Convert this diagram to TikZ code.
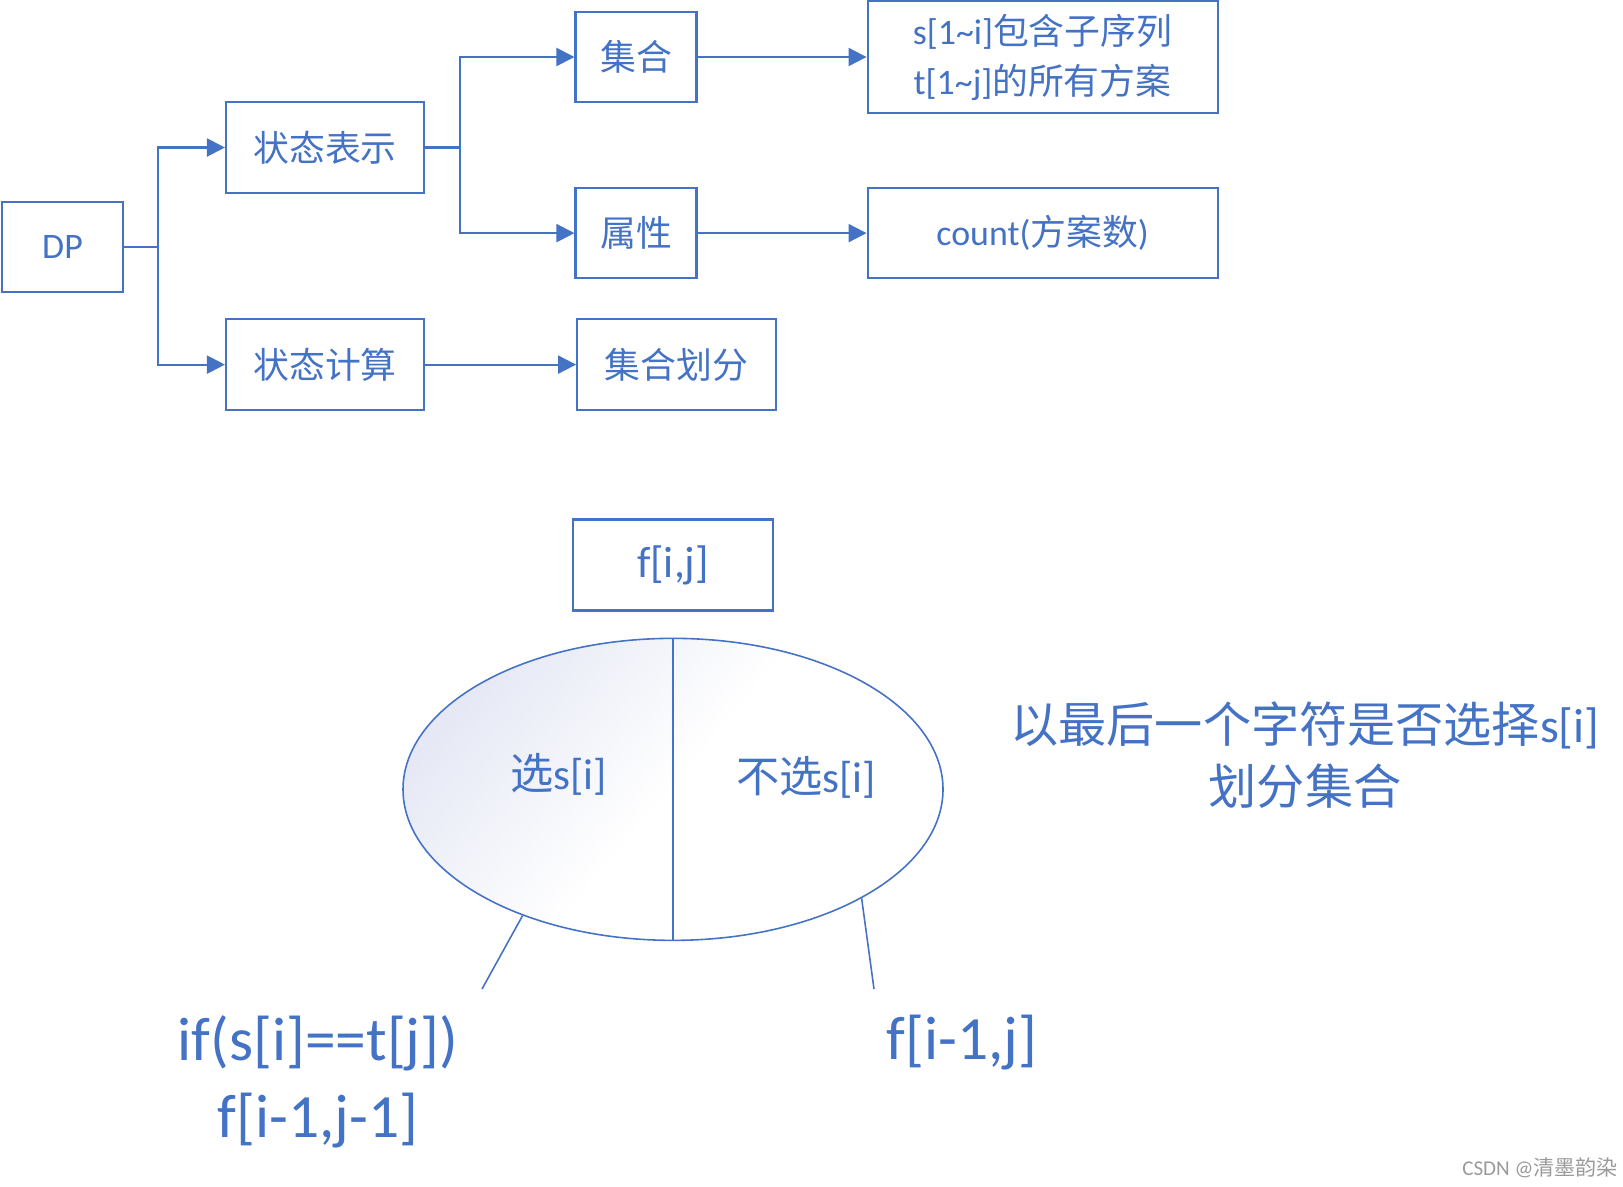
\documentclass[tikz,border=0pt]{standalone}
\usepackage{xcolor}
\usepackage{fontspec}
\setmainfont{Carlito}
\newfontfamily\cjk{Noto Sans CJK SC}
\usepackage{tikz}
\usetikzlibrary{arrows.meta, positioning, shapes.geometric}
\definecolor{primary}{HTML}{4472C4}
\definecolor{shadelav}{HTML}{E6E9F5}
\definecolor{markgray}{HTML}{9A9A9A}

\begin{document}
\begin{tikzpicture}[
  box/.style={rectangle, draw=primary, line width=0.6pt, minimum height=0.90cm,
              inner sep=0pt, text=primary, align=center,
              font=\fontsize{10.2}{14.2}\selectfont},
  arr/.style={-{Triangle[length=0.18cm, width=0.18cm]}, line width=0.6pt, color=primary},
  leg/.style={line width=0.45pt, color=primary},
  big/.style={text=primary, align=center, inner sep=0pt},
]
\useasboundingbox (0,0) rectangle (16.23,-11.86);
% upper tree
\node[box, minimum width=1.21cm] (dp) at (0.625,-2.47) {DP};
\node[box, minimum width=1.98cm, minimum height=0.91cm] (rep) at (3.25,-1.475) {\cjk 状态表示};
\node[box, minimum width=1.98cm, minimum height=0.91cm, below=1.24cm of rep] (calc) {\cjk 状态计算};
\node[box, minimum width=1.21cm] (set) at (6.36,-0.57) {\cjk 集合};
\node[box, minimum width=1.21cm, below=0.84cm of set] (attr) {\cjk 属性};
\node[box, minimum width=1.99cm, minimum height=0.91cm, right=1.51cm of calc] (part) {\cjk 集合划分};
\node[box, minimum width=3.50cm, minimum height=1.12cm, right=1.69cm of set] (setdesc)
  {s[1\textasciitilde i]{\cjk 包含子序列}\\t[1\textasciitilde j]{\cjk 的所有方案}};
\node[box, minimum width=3.50cm, right=1.69cm of attr] (cnt) {count({\cjk 方案数})};
\draw[arr] (dp.east) -- ++(0.335,0) |- (rep.west);
\draw[arr] (dp.east) -- ++(0.335,0) |- (calc.west);
\draw[arr] (rep.east) -- ++(0.345,0) |- (set.west);
\draw[arr] (rep.east) -- ++(0.345,0) |- (attr.west);
\draw[arr] (calc) -- (part);
\draw[arr] (set)  -- (setdesc);
\draw[arr] (attr) -- (cnt);
% set division
\node[box, minimum width=2.00cm, minimum height=0.91cm,
      font=\fontsize{12.5}{15}\selectfont] (fij) at (6.73,-5.65) {f[i,j]};
\node[ellipse, draw=primary, line width=0.45pt, minimum width=5.40cm, minimum height=3.02cm,
      inner sep=0pt, top color=shadelav, bottom color=white, middle color=white,
      shading angle=50, below=0.26cm of fij] (ell) {};
\draw[leg] (ell.north) -- (ell.south);
\node[big, font=\fontsize{12.3}{15}\selectfont] (pick) at (5.585,-7.745) {{\cjk 选}s[i]};
\node[big, font=\fontsize{12.3}{15}\selectfont] (skip) at (8.06,-7.77) {{\cjk 不选}s[i]};
\coordinate (legl) at (4.82,-9.89);
\coordinate (legr) at (8.74,-9.89);
\draw[leg] (ell.-140.6) -- (legl);
\draw[leg] (ell.-30.5)  -- (legr);
\node[big, font=\fontsize{17.5}{21.9}\selectfont] (same) at (3.18,-10.815) {if(s[i]==t[j])\\f[i-1,j-1]};
\node[big, font=\fontsize{17.5}{21.9}\selectfont] (prev) at (9.62,-10.43) {f[i-1,j]};
\node[big, font=\fontsize{13.7}{17.6}\selectfont] (note) at (13.05,-7.55)
  {{\cjk 以最后一个字符是否选择}s[i]\\{\cjk 划分集合}};
\node[text=markgray, font=\fontsize{6}{7}\selectfont] (mark) at (15.40,-11.68) {CSDN @{\cjk 清墨韵染}};
\end{tikzpicture}
\end{document}
